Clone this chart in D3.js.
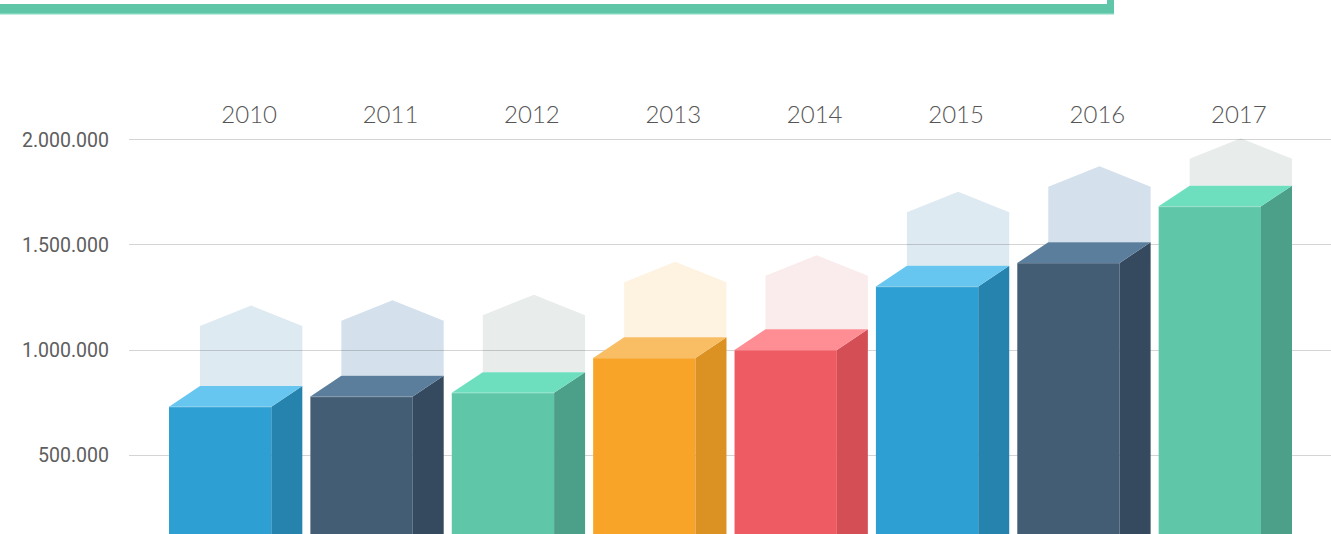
<!DOCTYPE html>
<html>
<head>
<meta charset="utf-8">
<script src="https://cdn.jsdelivr.net/npm/d3@7"></script>
<style>
  html, body { margin: 0; padding: 0; background: #ffffff; }
  svg { display: block; }
</style>
</head>
<body>
<script>
// ---- data ----
const years = ["2010", "2011", "2012", "2013", "2014", "2015", "2016", "2017"];
const values = [728000, 777000, 794000, 960000, 998000, 1300000, 1412000, 1681000];
const ghostValues = [1209000, 1234000, 1261000, 1418000, 1448000, 1751000, 1872000, 2005000];
const yTicks = [500000, 1000000, 1500000, 2000000];
const frontColors = ["#2e9fd3", "#435d75", "#5fc6a8", "#f7a428", "#ee5b63", "#2e9fd3", "#435d75", "#5fc6a8"];
const sideColors  = ["#2583ae", "#354a5f", "#4c9f88", "#dc9123", "#d34f55", "#2583ae", "#354a5f", "#4c9f88"];
const topColors   = ["#67c6f0", "#5b7e9c", "#6ddfbf", "#f9bd63", "#fe8d94", "#67c6f0", "#5b7e9c", "#6ddfbf"];
const ghostColors = ["#deeaf1", "#d4e0eb", "#e8eceb", "#fef2e1", "#faeced", "#deeaf1", "#d4e0eb", "#e8eceb"];

const W = 1331, H = 534;
const svg = d3.select("body").append("svg").attr("width", W).attr("height", H);

const y = d3.scaleLinear().domain([0, 2000000]).range([559.8, 139.3]);
const x = d3.scaleBand().domain(years).range([169, 1292]).paddingInner(0.057).paddingOuter(0);
const dx = 31, dy = 20.7, roof = 20.5;
const frontW = x.bandwidth() - dx;

const loc = d3.formatLocale({ decimal: ",", thousands: ".", grouping: [3], currency: ["", ""] });
const fmt = loc.format(",");

// top frame
svg.append("path")
  .attr("d", "M0,-20 H1114 V14 H0 Z M0,-20 V4 H1107 V-20 Z")
  .attr("fill", "#5fc6a8").attr("fill-rule", "evenodd");
svg.append("rect").attr("x", 0).attr("y", 13.5).attr("width", 1114).attr("height", 1.2).attr("fill", "#a6e3d2");

const data = years.map((yr, i) => ({ yr, v: values[i], g: ghostValues[i], i }));

// ghosts
svg.append("g").selectAll("path").data(data).join("path")
  .attr("fill", d => ghostColors[d.i])
  .attr("d", d => {
    const x0 = x(d.yr) + dx, x1 = x0 + frontW;
    const base = y(d.v) - dy;
    const peak = y(d.g);
    const shoulder = peak + roof;
    return `M${x0},${base} V${shoulder} L${(x0 + x1) / 2},${peak} L${x1},${shoulder} V${base} Z`;
  });

// gridlines
const grid = svg.append("g");
grid.selectAll("line").data(yTicks).join("line")
  .attr("x1", 129).attr("x2", W)
  .attr("y1", d => Math.round(y(d)) + 0.5).attr("y2", d => Math.round(y(d)) + 0.5)
  .attr("stroke", "#000").attr("stroke-opacity", 0.17).attr("stroke-width", 1.2);

// y labels
svg.append("g").selectAll("text").data(yTicks).join("text")
  .attr("x", 109).attr("y", d => y(d) + 1)
  .attr("text-anchor", "end").attr("dominant-baseline", "central")
  .attr("font-family", "Roboto, 'Noto Sans', sans-serif").attr("font-size", 19.5)
  .attr("fill", "#5e5e5e")
  .text(d => fmt(d));

// bars
const bars = svg.append("g").selectAll("g").data(data).join("g");
bars.append("rect")
  .attr("x", d => x(d.yr)).attr("y", d => y(d.v))
  .attr("width", frontW).attr("height", d => H + 10 - y(d.v))
  .attr("fill", d => frontColors[d.i]);
bars.append("path")
  .attr("fill", d => sideColors[d.i])
  .attr("d", d => {
    const xr = x(d.yr) + frontW, t = y(d.v);
    return `M${xr},${t} L${xr + dx},${t - dy} V${H + 10} H${xr} Z`;
  });
bars.append("path")
  .attr("fill", d => topColors[d.i])
  .attr("d", d => {
    const xl = x(d.yr), t = y(d.v);
    return `M${xl},${t} L${xl + dx},${t - dy} H${xl + dx + frontW} L${xl + frontW},${t} Z`;
  });
bars.append("line")
  .attr("x1", d => x(d.yr)).attr("x2", d => x(d.yr) + frontW)
  .attr("y1", d => y(d.v) + 0.5).attr("y2", d => y(d.v) + 0.5)
  .attr("stroke", "#ffffff").attr("stroke-opacity", 0.18);

// year labels
svg.append("g").selectAll("text").data(years).join("text")
  .attr("x", d => x(d) + dx + frontW / 2 - 2).attr("y", 123)
  .attr("text-anchor", "middle")
  .attr("font-family", "Lato, 'Open Sans', sans-serif").attr("font-size", 24).attr("font-weight", 300)
  .attr("fill", "#555555")
  .text(d => d);
</script>
</body>
</html>
